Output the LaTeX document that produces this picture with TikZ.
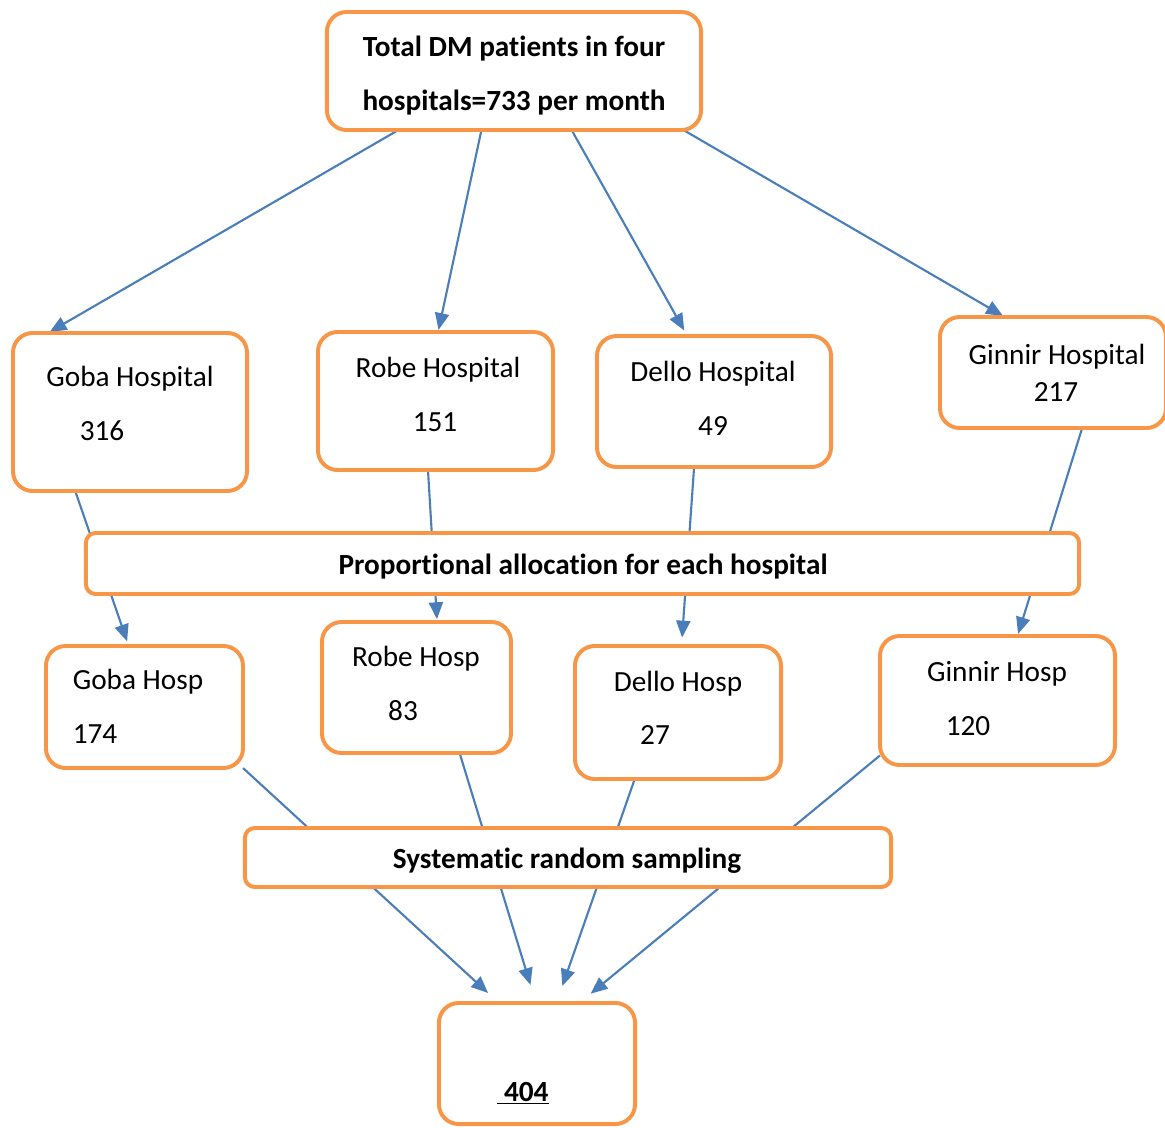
\documentclass[tikz,border=0pt]{standalone}
\usepackage{fontspec}
\setmainfont{Carlito}[Ligatures=NoCommon]
\usetikzlibrary{arrows.meta, calc, backgrounds}
\definecolor{boxorange}{HTML}{F79646}
\definecolor{flowblue}{HTML}{4A7EBB}

\begin{document}
\begin{tikzpicture}[x=0.025cm, y=-0.025cm, >={Triangle[length=12pt, width=10pt]},
	box/.style={draw=boxorange, line width=2.8pt, fill=white, rounded corners=14pt, inner sep=0pt, outer sep=0pt},
	band/.style={box, rounded corners=7pt},
	txt/.style={anchor=base, inner sep=0pt, font=\fontsize{20.8}{25}\selectfont},
	bold/.style={anchor=base, inner sep=0pt, font=\fontsize{20.8}{25}\selectfont\bfseries},
	flow/.style={->, draw=flowblue, line width=1.5pt, shorten >=1.5pt}]
	\useasboundingbox (0, 0) rectangle (1165, 1127);

	\node[box, minimum width=9.35cm, minimum height=2.95cm] (total) at (514, 71) {};
	\node[bold] (total-a) at (514, 56) {Total DM patients in four};
	\node[bold] (total-b) at (514, 110) {hospitals=733 per month};

	\node[box, minimum width=5.85cm, minimum height=3.95cm] (goba) at (130, 412) {};
	\node[txt] (goba-name) at (130, 386) {Goba Hospital};
	\node[txt] (goba-num) at (102, 440) {316};
	\node[box, minimum width=5.875cm, minimum height=3.45cm] (robe) at (435.5, 401) {};
	\node[txt] (robe-name) at (438, 377) {Robe Hospital};
	\node[txt] (robe-num) at (435, 431) {151};
	\node[box, minimum width=5.85cm, minimum height=3.275cm] (dello) at (714, 401.5) {};
	\node[txt] (dello-name) at (713, 381) {Dello Hospital};
	\node[txt] (dello-num) at (713, 435) {49};
	\node[box, minimum width=5.65cm, minimum height=2.775cm] (ginnir) at (1053, 372.5) {};
	\node[txt] (ginnir-name) at (1057, 364) {Ginnir Hospital};
	\node[txt] (ginnir-num) at (1056, 401) {217};

	\node[band, minimum width=24.825cm, minimum height=1.525cm] (prop) at (582.5, 563.5) {};
	\node[bold] (prop-text) at (583, 574) {Proportional allocation for each hospital};

	\node[box, minimum width=4.925cm, minimum height=3.05cm] (gobah) at (144.5, 707) {};
	\node[txt] (gobah-name) at (138, 689) {Goba Hosp};
	\node[txt] (gobah-num) at (95, 743) {174};
	\node[box, minimum width=4.725cm, minimum height=3.275cm] (robeh) at (416.5, 687.5) {};
	\node[txt] (robeh-name) at (416, 666) {Robe Hosp};
	\node[txt] (robeh-num) at (403, 720) {83};
	\node[box, minimum width=5.15cm, minimum height=3.325cm] (delloh) at (678, 712.5) {};
	\node[txt] (delloh-name) at (678, 691) {Dello Hosp};
	\node[txt] (delloh-num) at (655, 744) {27};
	\node[box, minimum width=5.875cm, minimum height=3.225cm] (ginnirh) at (997.5, 700.5) {};
	\node[txt] (ginnirh-name) at (997, 681) {Ginnir Hosp};
	\node[txt] (ginnirh-num) at (968, 735) {120};

	\node[band, minimum width=16.15cm, minimum height=1.475cm] (syst) at (568, 857.5) {};
	\node[bold] (syst-text) at (567, 868) {Systematic random sampling};

	\node[box, minimum width=4.9cm, minimum height=3.025cm] (res) at (537, 1063.5) {};
	\node[bold] (res-text) at (523, 1101) {\underline{\ 404}};

	\begin{pgfonlayer}{background}
		\draw[flow] ($(total.south west)!0.191!(total.south east)$) -- ($(goba.north west)!0.149!(goba.north east)$);
		\draw[flow] ($(total.south west)!0.413!(total.south east)$) -- ($(robe.north west)!0.511!(robe.north east)$);
		\draw[flow, shorten >=4.5pt] ($(total.south west)!0.654!(total.south east)$) -- ($(dello.north west)!0.386!(dello.north east)$);
		\draw[flow] ($(total.south west)!0.953!(total.south east)$) -- ($(ginnir.north west)!0.287!(ginnir.north east)$);

		\draw[flow, shorten >=3.5pt] ($(goba.south west)!0.266!(goba.south east)$) -- ($(gobah.north west)!0.420!(gobah.north east)$);
		\draw[flow, shorten >=2pt] ($(robe.south west)!0.468!(robe.south east)$) -- ($(robeh.north west)!0.609!(robeh.north east)$);
		\draw[flow, shorten >=6pt] ($(dello.south west)!0.415!(dello.south east)$) -- ($(delloh.north west)!0.517!(delloh.north east)$);
		\draw[flow] ($(ginnir.south west)!0.629!(ginnir.south east)$) -- ($(ginnirh.north west)!0.585!(ginnirh.north east)$);

		\draw[flow, shorten >=10.5pt] (gobah.south east) -- ($(res.north west)!0.306!(res.north east)$);
		\draw[flow, shorten >=13.4pt] ($(robeh.south west)!0.728!(robeh.south east)$) -- ($(res.north west)!0.495!(res.north east)$);
		\draw[flow, shorten >=12.8pt] ($(delloh.south west)!0.290!(delloh.south east)$) -- ($(res.north west)!0.599!(res.north east)$);
		\draw[flow, shorten >=10.4pt] ($(ginnirh.south west)!0.074!(ginnirh.north west)$) -- ($(res.north west)!0.716!(res.north east)$);
	\end{pgfonlayer}
\end{tikzpicture}
\end{document}
